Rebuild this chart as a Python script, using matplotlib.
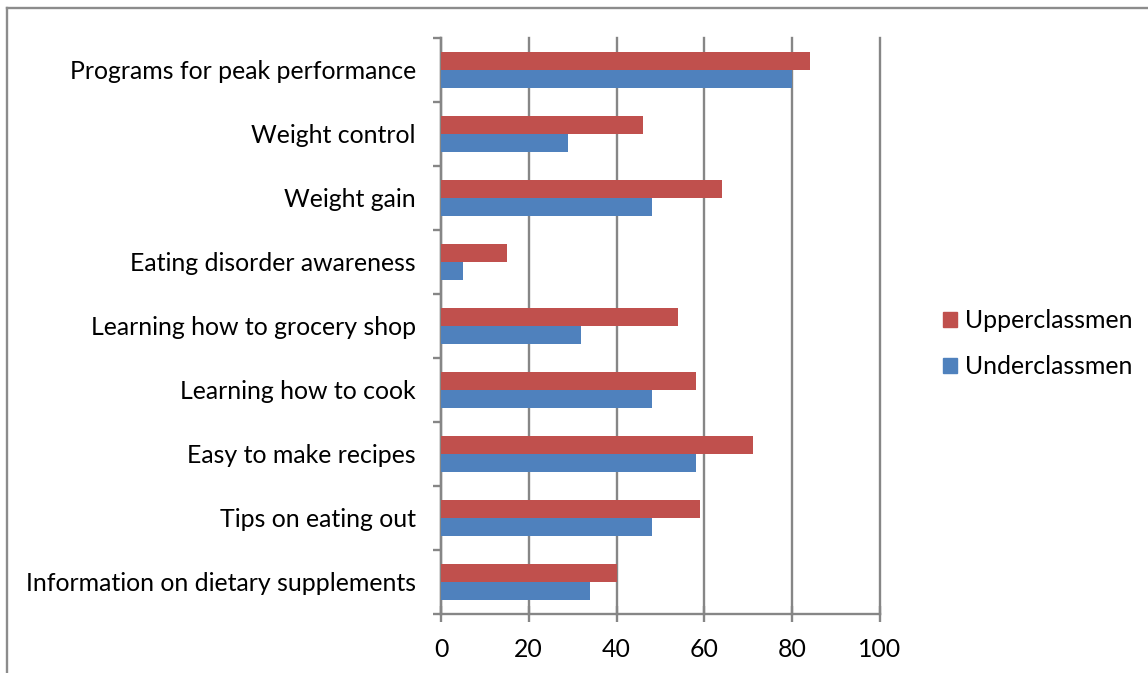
import matplotlib.pyplot as plt
from matplotlib.lines import Line2D
from matplotlib.patches import Patch
import numpy as np

plt.rcParams['font.family'] = ['Lato', 'DejaVu Sans']

# categories listed bottom to top
categories = [
    "Information on dietary supplements",
    "Tips on eating out",
    "Easy to make recipes",
    "Learning how to cook",
    "Learning how to grocery shop",
    "Eating disorder awareness",
    "Weight gain",
    "Weight control",
    "Programs for peak performance",
]
upperclassmen = [40, 59, 71, 58, 54, 15, 64, 46, 84]
underclassmen = [34, 48, 58, 48, 32, 5, 48, 29, 80]
x_ticks = [0, 20, 40, 60, 80, 100]

red = "#C0504D"
blue = "#4F81BD"
grey = "#868686"
fs = 17.9

fig = plt.figure(figsize=(11.48, 6.73), dpi=100)
ax = fig.add_axes([0.3841, 0.0877, 0.3824, 0.8559])

y = np.arange(len(categories))
h = 0.285
ax.barh(y + h / 2, upperclassmen, height=h, color=red, label="Upperclassmen", zorder=3)
ax.barh(y - h / 2, underclassmen, height=h, color=blue, label="Underclassmen", zorder=3)

ax.set_xlim(0, 100)
ax.set_ylim(-0.5, len(categories) - 0.5)

ax.set_xticks(x_ticks)
ax.set_xticklabels([str(v) for v in x_ticks], fontsize=fs)
ax.tick_params(axis="x", direction="inout", length=11, width=1.7, color=grey, pad=12)
ax.grid(axis="x", color=grey, linewidth=1.7, zorder=0)
for gl in ax.get_xgridlines():
    gl.set_clip_on(False)

# category boundaries get the tick marks, names sit at the centres
ax.set_yticks(np.arange(len(categories) + 1) - 0.5)
ax.set_yticklabels([])
ax.tick_params(axis="y", which="major", direction="out", length=6, width=1.7, color=grey)
ax.set_yticks(y, minor=True)
ax.set_yticklabels(categories, minor=True, fontsize=fs)
ax.tick_params(axis="y", which="minor", length=0, pad=18)

for s in ["top", "right"]:
    ax.spines[s].set_visible(False)
for s in ["left", "bottom"]:
    ax.spines[s].set_color(grey)
    ax.spines[s].set_linewidth(1.7)

handles = [Patch(color=red), Patch(color=blue)]
fig.legend(handles, ["Upperclassmen", "Underclassmen"], loc="center left",
           bbox_to_anchor=(0.8214, 0.4896), frameon=False, fontsize=fs,
           handlelength=0.55, handleheight=0.55, handletextpad=0.35,
           labelspacing=0.93, borderpad=0, borderaxespad=0)

# chart area border
fig.add_artist(Line2D([7 / 1148, 7 / 1148], [0, 1 - 8 / 673], color="#8C8C8C", lw=1.7))
fig.add_artist(Line2D([7 / 1148, 1], [1 - 8 / 673, 1 - 8 / 673], color="#8C8C8C", lw=1.7))

fig.savefig("out.png", dpi=100)
